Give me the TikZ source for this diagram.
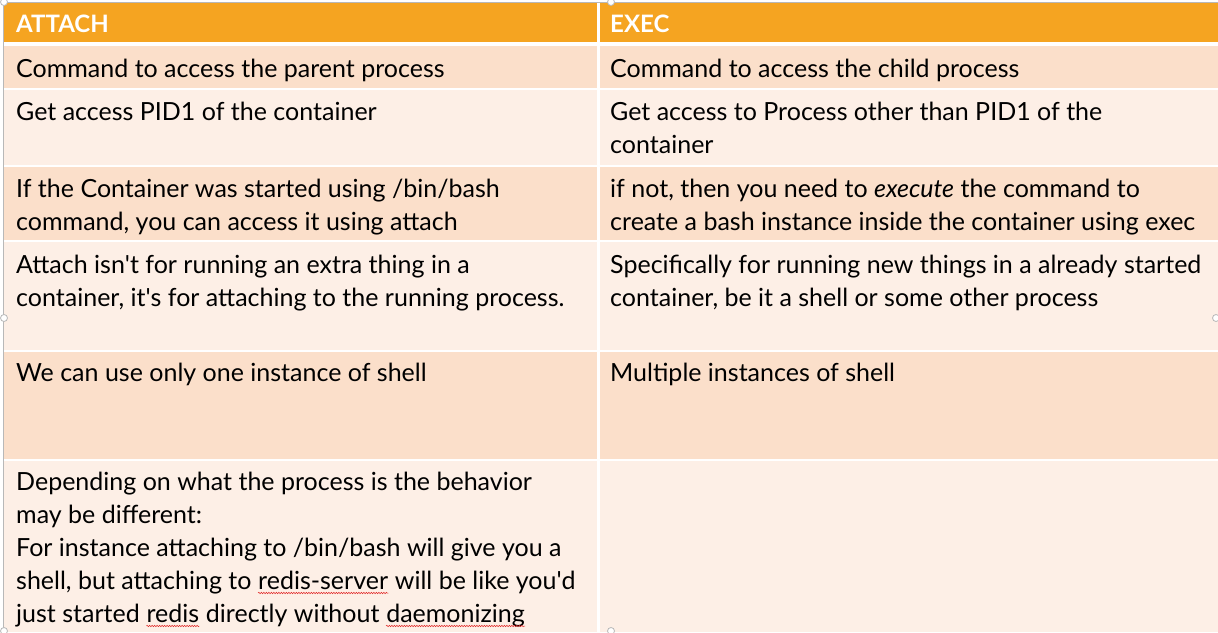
\documentclass[tikz,border=0pt]{standalone}
\usepackage{fontspec}
\setmainfont{Lato}
\usetikzlibrary{positioning, decorations.pathmorphing}

\definecolor{hdrorange}{HTML}{F5A421}
\definecolor{rowdark}{HTML}{FBDFCA}
\definecolor{rowlight}{HTML}{FDEFE6}
\definecolor{framegray}{HTML}{B8B8B8}
\definecolor{spellred}{HTML}{E02020}

\tikzset{
    cell/.style={anchor=base west, inner sep=0pt, align=left, font=\fontsize{25}{33}\selectfont},
    hdr/.style={anchor=base west, inner sep=0pt, text=white, font=\fontsize{24}{28}\selectfont\bfseries},
    handle/.style={draw=framegray, fill=white, line width=0.8pt},
    spellwave/.style={spellred, line width=0.5pt, decorate, decoration={snake, amplitude=0.7pt, segment length=2.5pt}}
}

\begin{document}
\begin{tikzpicture}[x=1pt, y=-1pt]
        \useasboundingbox (0,0) rectangle (1218,632);
        \fill[white] (0,0) rectangle (1218,632);
        % --- Table background ---
        \fill[hdrorange] (4,3) rectangle (597,42);
        \fill[hdrorange] (600,3) rectangle (1218,42);
        \foreach \top/\bot/\col in {46/88/rowdark, 90/165/rowlight, 167/240/rowdark, 242/350/rowlight, 352/459/rowdark, 461/632/rowlight}{
            \fill[\col] (4,\top) rectangle (597,\bot);
            \fill[\col] (600,\top) rectangle (1218,\bot);
        }
        \draw[framegray, line width=0.8pt] (3,632) -- (3,2) -- (1218,2);
        % --- Header ---
        \node[hdr] (hattach) at (16,32) {ATTACH};
        \node[hdr] (hexec) at (610,32) {EXEC};
        % --- Rows (base = baseline of the last line) ---
        \node[cell] (a1) at (16,77) {Command to access the parent process};
        \node[cell] (e1) at (610,77) {Command to access the child process};
        \node[cell] (a2) at (16,120) {Get access PID1 of the container};
        \node[cell] (e2) at (610,153) {Get access to Process other than PID1 of the\\container};
        \node[cell] (a3) at (16,230) {If the Container was started using /bin/bash\\command, you can access it using attach};
        \node[cell] (e3) at (610,230) {if not, then you need to \textit{execute} the command to\\create a bash instance inside the container using exec};
        \node[cell] (a4) at (16,306) {Attach isn\textquotesingle t for running an extra thing in a\\container, it\textquotesingle s for attaching to the running process.};
        \node[cell] (e4) at (610,306) {Specifically for running new things in a already started\\container, be it a shell or some other process};
        \node[cell] (a5) at (16,381) {We can use only one instance of shell};
        \node[cell] (e5) at (610,381) {Multiple instances of shell};
        \node[cell] (a6) at (16,556) {Depending on what the process is the behavior\\may be different:\\For instance attaching to /bin/bash will give you a};
        % line 4 and 5 of the last cell, split round the underlined words
        \node[cell] (a6d) at (16,589) {shell, but attaching to\ };
        \node[cell] (w1) at (a6d.base east) {redis-server};
        \node[cell] (a6d2) at (w1.base east) {\ will be like you\textquotesingle d};
        \node[cell] (a6e) at (16,622) {just started\ };
        \node[cell] (w2) at (a6e.base east) {redis};
        \node[cell] (a6e2) at (w2.base east) {\ directly without\ };
        \node[cell] (w3) at (a6e2.base east) {daemonizing};
        \foreach \w in {w1, w2, w3}
            \draw[spellwave] ([yshift=-4pt]\w.base west) -- ([yshift=-4pt]\w.base east);
        % --- Selection handles ---
        \foreach \hx/\hy in {4/2, 611/2, 4/318, 1216/318, 4/631, 611/631}
            \draw[handle] (\hx,\hy) circle (3.5);
        % ---
\end{tikzpicture}
\end{document}
